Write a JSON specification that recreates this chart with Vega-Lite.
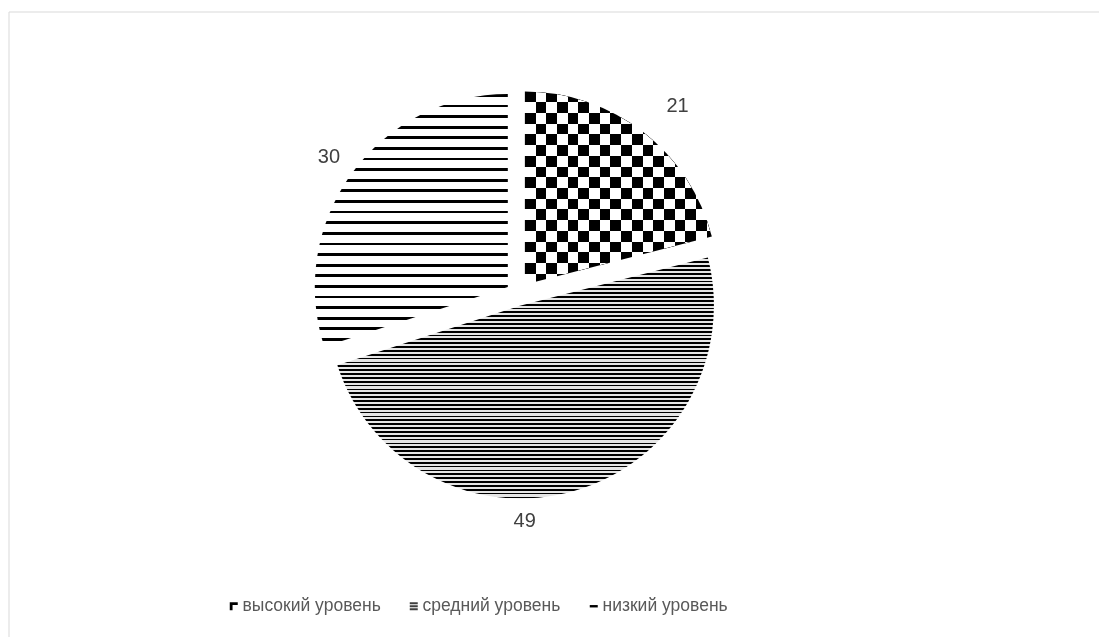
{
  "$schema": "https://vega.github.io/schema/vega-lite/v6.json",
  "width": 1090.5,
  "height": 625.5,
  "autosize": {"type": "none"},
  "padding": {"left": 8.5, "top": 11.5, "right": 0, "bottom": 0},
  "background": "white",
  "view": {"stroke": "#d9d9d9", "strokeWidth": 1, "fill": "white"},
  "config": {
    "view": {"stroke": "#d9d9d9", "strokeWidth": 1}
  },
  "data": {
    "values": [
      {"cat": "высокий уровень", "value": 21, "ord": 1},
      {"cat": "средний уровень", "value": 49, "ord": 2},
      {"cat": "низкий уровень", "value": 30, "ord": 3}
    ]
  },
  "layer": [
    {
      "mark": {"type": "point", "filled": true, "opacity": 0},
      "encoding": {
        "color": {
          "field": "cat", "type": "nominal",
          "scale": {"domain": ["высокий уровень", "средний уровень", "низкий уровень"], "range": ["#000000", "#404040", "#000000"]},
          "legend": {"title": null, "orient": "none", "legendX": 216.5, "legendY": 586, "direction": "horizontal", "gridAlign": "none", "symbolSize": 64, "symbolStrokeWidth": 0, "labelFont": "Liberation Sans", "labelFontSize": 17.5, "labelColor": "#595959", "labelOffset": 0, "columnPadding": 24, "padding": 0, "symbolOpacity": 1}
        },
        "shape": {
          "field": "cat", "type": "nominal",
          "scale": {"domain": ["высокий уровень", "средний уровень", "низкий уровень"], "range": ["M-1,-1H1V-0.3H-0.3V1H-1Z", "M-1,-1H1V-0.5H-1Z M-1,-0.25H1V0.25H-1Z M-1,0.5H1V1H-1Z", "M-1,-0.3H1V0.3H-1Z"]},
          "legend": {"title": null, "orient": "none", "legendX": 216.5, "legendY": 586, "direction": "horizontal", "gridAlign": "none", "symbolSize": 64, "symbolStrokeWidth": 0, "labelFont": "Liberation Sans", "labelFontSize": 17.5, "labelColor": "#595959", "labelOffset": 0, "columnPadding": 24, "padding": 0, "symbolOpacity": 1}
        }
      }
    },
    {
      "mark": {"type": "arc", "radius": 193, "x": 516.4, "y": 273,
        "fill": {"gradient": "linear", "x1": 0, "y1": 0, "x2": 0, "y2": 1, "stops": [
          {"offset": 0, "color": "#000"}, {"offset": 0.05556, "color": "#000"}, {"offset": 0.05556, "color": "#fff"}, {"offset": 0.11111, "color": "#fff"},
          {"offset": 0.11111, "color": "#000"}, {"offset": 0.16667, "color": "#000"}, {"offset": 0.16667, "color": "#fff"}, {"offset": 0.22222, "color": "#fff"},
          {"offset": 0.22222, "color": "#000"}, {"offset": 0.27778, "color": "#000"}, {"offset": 0.27778, "color": "#fff"}, {"offset": 0.33333, "color": "#fff"},
          {"offset": 0.33333, "color": "#000"}, {"offset": 0.38889, "color": "#000"}, {"offset": 0.38889, "color": "#fff"}, {"offset": 0.44444, "color": "#fff"},
          {"offset": 0.44444, "color": "#000"}, {"offset": 0.5, "color": "#000"}, {"offset": 0.5, "color": "#fff"}, {"offset": 0.55556, "color": "#fff"},
          {"offset": 0.55556, "color": "#000"}, {"offset": 0.61111, "color": "#000"}, {"offset": 0.61111, "color": "#fff"}, {"offset": 0.66667, "color": "#fff"},
          {"offset": 0.66667, "color": "#000"}, {"offset": 0.72222, "color": "#000"}, {"offset": 0.72222, "color": "#fff"}, {"offset": 0.77778, "color": "#fff"},
          {"offset": 0.77778, "color": "#000"}, {"offset": 0.83333, "color": "#000"}, {"offset": 0.83333, "color": "#fff"}, {"offset": 0.88889, "color": "#fff"},
          {"offset": 0.88889, "color": "#000"}, {"offset": 0.94444, "color": "#000"}, {"offset": 0.94444, "color": "#fff"}, {"offset": 1, "color": "#fff"}
        ]}
      },
      "encoding": {
        "theta": {"field": "value", "type": "quantitative", "stack": true},
        "order": {"field": "ord", "type": "quantitative"},
        "detail": {"field": "cat", "type": "nominal"},
        "opacity": {"condition": {"test": "datum.cat === 'высокий уровень'", "value": 1}, "value": 0}
      }
    },
    {
      "mark": {"type": "arc", "radius": 193, "x": 516.4, "y": 273, "blend": "difference",
        "fill": {"gradient": "linear", "x1": 0, "y1": 0, "x2": 1, "y2": 0, "stops": [
          {"offset": 0, "color": "#000"}, {"offset": 0.0572, "color": "#000"}, {"offset": 0.0572, "color": "#fff"}, {"offset": 0.1144, "color": "#fff"},
          {"offset": 0.1144, "color": "#000"}, {"offset": 0.1716, "color": "#000"}, {"offset": 0.1716, "color": "#fff"}, {"offset": 0.2288, "color": "#fff"},
          {"offset": 0.2288, "color": "#000"}, {"offset": 0.286, "color": "#000"}, {"offset": 0.286, "color": "#fff"}, {"offset": 0.3432, "color": "#fff"},
          {"offset": 0.3432, "color": "#000"}, {"offset": 0.4004, "color": "#000"}, {"offset": 0.4004, "color": "#fff"}, {"offset": 0.4576, "color": "#fff"},
          {"offset": 0.4576, "color": "#000"}, {"offset": 0.5148, "color": "#000"}, {"offset": 0.5148, "color": "#fff"}, {"offset": 0.572, "color": "#fff"},
          {"offset": 0.572, "color": "#000"}, {"offset": 0.6292, "color": "#000"}, {"offset": 0.6292, "color": "#fff"}, {"offset": 0.6864, "color": "#fff"},
          {"offset": 0.6864, "color": "#000"}, {"offset": 0.7436, "color": "#000"}, {"offset": 0.7436, "color": "#fff"}, {"offset": 0.8008, "color": "#fff"},
          {"offset": 0.8008, "color": "#000"}, {"offset": 0.858, "color": "#000"}, {"offset": 0.858, "color": "#fff"}, {"offset": 0.9152, "color": "#fff"},
          {"offset": 0.9152, "color": "#000"}, {"offset": 0.9724, "color": "#000"}, {"offset": 0.9724, "color": "#fff"}, {"offset": 1, "color": "#fff"}
        ]}
      },
      "encoding": {
        "theta": {"field": "value", "type": "quantitative", "stack": true},
        "order": {"field": "ord", "type": "quantitative"},
        "detail": {"field": "cat", "type": "nominal"},
        "opacity": {"condition": {"test": "datum.cat === 'высокий уровень'", "value": 1}, "value": 0}
      }
    },
    {
      "mark": {"type": "arc", "radius": 193, "x": 512.4, "y": 294,
        "fill": {"gradient": "linear", "x1": 0, "y1": 0, "x2": 0, "y2": 1, "stops": [
          {"offset": 0, "color": "#000"}, {"offset": 0.0072, "color": "#000"}, {"offset": 0.0072, "color": "#e6e6e6"}, {"offset": 0.016, "color": "#e6e6e6"},
          {"offset": 0.016, "color": "#000"}, {"offset": 0.0232, "color": "#000"}, {"offset": 0.0232, "color": "#e6e6e6"}, {"offset": 0.032, "color": "#e6e6e6"},
          {"offset": 0.032, "color": "#000"}, {"offset": 0.0392, "color": "#000"}, {"offset": 0.0392, "color": "#e6e6e6"}, {"offset": 0.048, "color": "#e6e6e6"},
          {"offset": 0.048, "color": "#000"}, {"offset": 0.0552, "color": "#000"}, {"offset": 0.0552, "color": "#e6e6e6"}, {"offset": 0.064, "color": "#e6e6e6"},
          {"offset": 0.064, "color": "#000"}, {"offset": 0.0712, "color": "#000"}, {"offset": 0.0712, "color": "#e6e6e6"}, {"offset": 0.08, "color": "#e6e6e6"},
          {"offset": 0.08, "color": "#000"}, {"offset": 0.0872, "color": "#000"}, {"offset": 0.0872, "color": "#e6e6e6"}, {"offset": 0.096, "color": "#e6e6e6"},
          {"offset": 0.096, "color": "#000"}, {"offset": 0.1032, "color": "#000"}, {"offset": 0.1032, "color": "#e6e6e6"}, {"offset": 0.112, "color": "#e6e6e6"},
          {"offset": 0.112, "color": "#000"}, {"offset": 0.1192, "color": "#000"}, {"offset": 0.1192, "color": "#e6e6e6"}, {"offset": 0.128, "color": "#e6e6e6"},
          {"offset": 0.128, "color": "#000"}, {"offset": 0.1352, "color": "#000"}, {"offset": 0.1352, "color": "#e6e6e6"}, {"offset": 0.144, "color": "#e6e6e6"},
          {"offset": 0.144, "color": "#000"}, {"offset": 0.1512, "color": "#000"}, {"offset": 0.1512, "color": "#e6e6e6"}, {"offset": 0.16, "color": "#e6e6e6"},
          {"offset": 0.16, "color": "#000"}, {"offset": 0.1672, "color": "#000"}, {"offset": 0.1672, "color": "#e6e6e6"}, {"offset": 0.176, "color": "#e6e6e6"},
          {"offset": 0.176, "color": "#000"}, {"offset": 0.1832, "color": "#000"}, {"offset": 0.1832, "color": "#e6e6e6"}, {"offset": 0.192, "color": "#e6e6e6"},
          {"offset": 0.192, "color": "#000"}, {"offset": 0.1992, "color": "#000"}, {"offset": 0.1992, "color": "#e6e6e6"}, {"offset": 0.208, "color": "#e6e6e6"},
          {"offset": 0.208, "color": "#000"}, {"offset": 0.2152, "color": "#000"}, {"offset": 0.2152, "color": "#e6e6e6"}, {"offset": 0.224, "color": "#e6e6e6"},
          {"offset": 0.224, "color": "#000"}, {"offset": 0.2312, "color": "#000"}, {"offset": 0.2312, "color": "#e6e6e6"}, {"offset": 0.24, "color": "#e6e6e6"},
          {"offset": 0.24, "color": "#000"}, {"offset": 0.2472, "color": "#000"}, {"offset": 0.2472, "color": "#e6e6e6"}, {"offset": 0.256, "color": "#e6e6e6"},
          {"offset": 0.256, "color": "#000"}, {"offset": 0.2632, "color": "#000"}, {"offset": 0.2632, "color": "#e6e6e6"}, {"offset": 0.272, "color": "#e6e6e6"},
          {"offset": 0.272, "color": "#000"}, {"offset": 0.2792, "color": "#000"}, {"offset": 0.2792, "color": "#e6e6e6"}, {"offset": 0.288, "color": "#e6e6e6"},
          {"offset": 0.288, "color": "#000"}, {"offset": 0.2952, "color": "#000"}, {"offset": 0.2952, "color": "#e6e6e6"}, {"offset": 0.304, "color": "#e6e6e6"},
          {"offset": 0.304, "color": "#000"}, {"offset": 0.3112, "color": "#000"}, {"offset": 0.3112, "color": "#e6e6e6"}, {"offset": 0.32, "color": "#e6e6e6"},
          {"offset": 0.32, "color": "#000"}, {"offset": 0.3272, "color": "#000"}, {"offset": 0.3272, "color": "#e6e6e6"}, {"offset": 0.336, "color": "#e6e6e6"},
          {"offset": 0.336, "color": "#000"}, {"offset": 0.3432, "color": "#000"}, {"offset": 0.3432, "color": "#e6e6e6"}, {"offset": 0.352, "color": "#e6e6e6"},
          {"offset": 0.352, "color": "#000"}, {"offset": 0.3592, "color": "#000"}, {"offset": 0.3592, "color": "#e6e6e6"}, {"offset": 0.368, "color": "#e6e6e6"},
          {"offset": 0.368, "color": "#000"}, {"offset": 0.3752, "color": "#000"}, {"offset": 0.3752, "color": "#e6e6e6"}, {"offset": 0.384, "color": "#e6e6e6"},
          {"offset": 0.384, "color": "#000"}, {"offset": 0.3912, "color": "#000"}, {"offset": 0.3912, "color": "#e6e6e6"}, {"offset": 0.4, "color": "#e6e6e6"},
          {"offset": 0.4, "color": "#000"}, {"offset": 0.4072, "color": "#000"}, {"offset": 0.4072, "color": "#e6e6e6"}, {"offset": 0.416, "color": "#e6e6e6"},
          {"offset": 0.416, "color": "#000"}, {"offset": 0.4232, "color": "#000"}, {"offset": 0.4232, "color": "#e6e6e6"}, {"offset": 0.432, "color": "#e6e6e6"},
          {"offset": 0.432, "color": "#000"}, {"offset": 0.4392, "color": "#000"}, {"offset": 0.4392, "color": "#e6e6e6"}, {"offset": 0.448, "color": "#e6e6e6"},
          {"offset": 0.448, "color": "#000"}, {"offset": 0.4552, "color": "#000"}, {"offset": 0.4552, "color": "#e6e6e6"}, {"offset": 0.464, "color": "#e6e6e6"},
          {"offset": 0.464, "color": "#000"}, {"offset": 0.4712, "color": "#000"}, {"offset": 0.4712, "color": "#e6e6e6"}, {"offset": 0.48, "color": "#e6e6e6"},
          {"offset": 0.48, "color": "#000"}, {"offset": 0.4872, "color": "#000"}, {"offset": 0.4872, "color": "#e6e6e6"}, {"offset": 0.496, "color": "#e6e6e6"},
          {"offset": 0.496, "color": "#000"}, {"offset": 0.5032, "color": "#000"}, {"offset": 0.5032, "color": "#e6e6e6"}, {"offset": 0.512, "color": "#e6e6e6"},
          {"offset": 0.512, "color": "#000"}, {"offset": 0.5192, "color": "#000"}, {"offset": 0.5192, "color": "#e6e6e6"}, {"offset": 0.528, "color": "#e6e6e6"},
          {"offset": 0.528, "color": "#000"}, {"offset": 0.5352, "color": "#000"}, {"offset": 0.5352, "color": "#e6e6e6"}, {"offset": 0.544, "color": "#e6e6e6"},
          {"offset": 0.544, "color": "#000"}, {"offset": 0.5512, "color": "#000"}, {"offset": 0.5512, "color": "#e6e6e6"}, {"offset": 0.56, "color": "#e6e6e6"},
          {"offset": 0.56, "color": "#000"}, {"offset": 0.5672, "color": "#000"}, {"offset": 0.5672, "color": "#e6e6e6"}, {"offset": 0.576, "color": "#e6e6e6"},
          {"offset": 0.576, "color": "#000"}, {"offset": 0.5832, "color": "#000"}, {"offset": 0.5832, "color": "#e6e6e6"}, {"offset": 0.592, "color": "#e6e6e6"},
          {"offset": 0.592, "color": "#000"}, {"offset": 0.5992, "color": "#000"}, {"offset": 0.5992, "color": "#e6e6e6"}, {"offset": 0.608, "color": "#e6e6e6"},
          {"offset": 0.608, "color": "#000"}, {"offset": 0.6152, "color": "#000"}, {"offset": 0.6152, "color": "#e6e6e6"}, {"offset": 0.624, "color": "#e6e6e6"},
          {"offset": 0.624, "color": "#000"}, {"offset": 0.6312, "color": "#000"}, {"offset": 0.6312, "color": "#e6e6e6"}, {"offset": 0.64, "color": "#e6e6e6"},
          {"offset": 0.64, "color": "#000"}, {"offset": 0.6472, "color": "#000"}, {"offset": 0.6472, "color": "#e6e6e6"}, {"offset": 0.656, "color": "#e6e6e6"},
          {"offset": 0.656, "color": "#000"}, {"offset": 0.6632, "color": "#000"}, {"offset": 0.6632, "color": "#e6e6e6"}, {"offset": 0.672, "color": "#e6e6e6"},
          {"offset": 0.672, "color": "#000"}, {"offset": 0.6792, "color": "#000"}, {"offset": 0.6792, "color": "#e6e6e6"}, {"offset": 0.688, "color": "#e6e6e6"},
          {"offset": 0.688, "color": "#000"}, {"offset": 0.6952, "color": "#000"}, {"offset": 0.6952, "color": "#e6e6e6"}, {"offset": 0.704, "color": "#e6e6e6"},
          {"offset": 0.704, "color": "#000"}, {"offset": 0.7112, "color": "#000"}, {"offset": 0.7112, "color": "#e6e6e6"}, {"offset": 0.72, "color": "#e6e6e6"},
          {"offset": 0.72, "color": "#000"}, {"offset": 0.7272, "color": "#000"}, {"offset": 0.7272, "color": "#e6e6e6"}, {"offset": 0.736, "color": "#e6e6e6"},
          {"offset": 0.736, "color": "#000"}, {"offset": 0.7432, "color": "#000"}, {"offset": 0.7432, "color": "#e6e6e6"}, {"offset": 0.752, "color": "#e6e6e6"},
          {"offset": 0.752, "color": "#000"}, {"offset": 0.7592, "color": "#000"}, {"offset": 0.7592, "color": "#e6e6e6"}, {"offset": 0.768, "color": "#e6e6e6"},
          {"offset": 0.768, "color": "#000"}, {"offset": 0.7752, "color": "#000"}, {"offset": 0.7752, "color": "#e6e6e6"}, {"offset": 0.784, "color": "#e6e6e6"},
          {"offset": 0.784, "color": "#000"}, {"offset": 0.7912, "color": "#000"}, {"offset": 0.7912, "color": "#e6e6e6"}, {"offset": 0.8, "color": "#e6e6e6"},
          {"offset": 0.8, "color": "#000"}, {"offset": 0.8072, "color": "#000"}, {"offset": 0.8072, "color": "#e6e6e6"}, {"offset": 0.816, "color": "#e6e6e6"},
          {"offset": 0.816, "color": "#000"}, {"offset": 0.8232, "color": "#000"}, {"offset": 0.8232, "color": "#e6e6e6"}, {"offset": 0.832, "color": "#e6e6e6"},
          {"offset": 0.832, "color": "#000"}, {"offset": 0.8392, "color": "#000"}, {"offset": 0.8392, "color": "#e6e6e6"}, {"offset": 0.848, "color": "#e6e6e6"},
          {"offset": 0.848, "color": "#000"}, {"offset": 0.8552, "color": "#000"}, {"offset": 0.8552, "color": "#e6e6e6"}, {"offset": 0.864, "color": "#e6e6e6"},
          {"offset": 0.864, "color": "#000"}, {"offset": 0.8712, "color": "#000"}, {"offset": 0.8712, "color": "#e6e6e6"}, {"offset": 0.88, "color": "#e6e6e6"},
          {"offset": 0.88, "color": "#000"}, {"offset": 0.8872, "color": "#000"}, {"offset": 0.8872, "color": "#e6e6e6"}, {"offset": 0.896, "color": "#e6e6e6"},
          {"offset": 0.896, "color": "#000"}, {"offset": 0.9032, "color": "#000"}, {"offset": 0.9032, "color": "#e6e6e6"}, {"offset": 0.912, "color": "#e6e6e6"},
          {"offset": 0.912, "color": "#000"}, {"offset": 0.9192, "color": "#000"}, {"offset": 0.9192, "color": "#e6e6e6"}, {"offset": 0.928, "color": "#e6e6e6"},
          {"offset": 0.928, "color": "#000"}, {"offset": 0.9352, "color": "#000"}, {"offset": 0.9352, "color": "#e6e6e6"}, {"offset": 0.944, "color": "#e6e6e6"},
          {"offset": 0.944, "color": "#000"}, {"offset": 0.9512, "color": "#000"}, {"offset": 0.9512, "color": "#e6e6e6"}, {"offset": 0.96, "color": "#e6e6e6"},
          {"offset": 0.96, "color": "#000"}, {"offset": 0.9672, "color": "#000"}, {"offset": 0.9672, "color": "#e6e6e6"}, {"offset": 0.976, "color": "#e6e6e6"},
          {"offset": 0.976, "color": "#000"}, {"offset": 0.9832, "color": "#000"}, {"offset": 0.9832, "color": "#e6e6e6"}, {"offset": 0.992, "color": "#e6e6e6"},
          {"offset": 0.992, "color": "#000"}, {"offset": 0.9992, "color": "#000"}, {"offset": 0.9992, "color": "#e6e6e6"}, {"offset": 1, "color": "#e6e6e6"}
        ]}
      },
      "encoding": {
        "theta": {"field": "value", "type": "quantitative", "stack": true},
        "order": {"field": "ord", "type": "quantitative"},
        "detail": {"field": "cat", "type": "nominal"},
        "opacity": {"condition": {"test": "datum.cat === 'средний уровень'", "value": 1}, "value": 0}
      }
    },
    {
      "mark": {"type": "arc", "radius": 193, "x": 499.3, "y": 275.5,
        "fill": {"gradient": "linear", "x1": 0, "y1": 0, "x2": 0, "y2": 1, "stops": [
          {"offset": 0, "color": "#000"}, {"offset": 0.011, "color": "#000"}, {"offset": 0.011, "color": "#fff"}, {"offset": 0.042, "color": "#fff"},
          {"offset": 0.042, "color": "#000"}, {"offset": 0.053, "color": "#000"}, {"offset": 0.053, "color": "#fff"}, {"offset": 0.084, "color": "#fff"},
          {"offset": 0.084, "color": "#000"}, {"offset": 0.095, "color": "#000"}, {"offset": 0.095, "color": "#fff"}, {"offset": 0.126, "color": "#fff"},
          {"offset": 0.126, "color": "#000"}, {"offset": 0.137, "color": "#000"}, {"offset": 0.137, "color": "#fff"}, {"offset": 0.168, "color": "#fff"},
          {"offset": 0.168, "color": "#000"}, {"offset": 0.179, "color": "#000"}, {"offset": 0.179, "color": "#fff"}, {"offset": 0.21, "color": "#fff"},
          {"offset": 0.21, "color": "#000"}, {"offset": 0.221, "color": "#000"}, {"offset": 0.221, "color": "#fff"}, {"offset": 0.252, "color": "#fff"},
          {"offset": 0.252, "color": "#000"}, {"offset": 0.263, "color": "#000"}, {"offset": 0.263, "color": "#fff"}, {"offset": 0.294, "color": "#fff"},
          {"offset": 0.294, "color": "#000"}, {"offset": 0.305, "color": "#000"}, {"offset": 0.305, "color": "#fff"}, {"offset": 0.336, "color": "#fff"},
          {"offset": 0.336, "color": "#000"}, {"offset": 0.347, "color": "#000"}, {"offset": 0.347, "color": "#fff"}, {"offset": 0.378, "color": "#fff"},
          {"offset": 0.378, "color": "#000"}, {"offset": 0.389, "color": "#000"}, {"offset": 0.389, "color": "#fff"}, {"offset": 0.42, "color": "#fff"},
          {"offset": 0.42, "color": "#000"}, {"offset": 0.431, "color": "#000"}, {"offset": 0.431, "color": "#fff"}, {"offset": 0.462, "color": "#fff"},
          {"offset": 0.462, "color": "#000"}, {"offset": 0.473, "color": "#000"}, {"offset": 0.473, "color": "#fff"}, {"offset": 0.504, "color": "#fff"},
          {"offset": 0.504, "color": "#000"}, {"offset": 0.515, "color": "#000"}, {"offset": 0.515, "color": "#fff"}, {"offset": 0.546, "color": "#fff"},
          {"offset": 0.546, "color": "#000"}, {"offset": 0.557, "color": "#000"}, {"offset": 0.557, "color": "#fff"}, {"offset": 0.588, "color": "#fff"},
          {"offset": 0.588, "color": "#000"}, {"offset": 0.599, "color": "#000"}, {"offset": 0.599, "color": "#fff"}, {"offset": 0.63, "color": "#fff"},
          {"offset": 0.63, "color": "#000"}, {"offset": 0.641, "color": "#000"}, {"offset": 0.641, "color": "#fff"}, {"offset": 0.672, "color": "#fff"},
          {"offset": 0.672, "color": "#000"}, {"offset": 0.683, "color": "#000"}, {"offset": 0.683, "color": "#fff"}, {"offset": 0.714, "color": "#fff"},
          {"offset": 0.714, "color": "#000"}, {"offset": 0.725, "color": "#000"}, {"offset": 0.725, "color": "#fff"}, {"offset": 0.756, "color": "#fff"},
          {"offset": 0.756, "color": "#000"}, {"offset": 0.767, "color": "#000"}, {"offset": 0.767, "color": "#fff"}, {"offset": 0.798, "color": "#fff"},
          {"offset": 0.798, "color": "#000"}, {"offset": 0.809, "color": "#000"}, {"offset": 0.809, "color": "#fff"}, {"offset": 0.84, "color": "#fff"},
          {"offset": 0.84, "color": "#000"}, {"offset": 0.851, "color": "#000"}, {"offset": 0.851, "color": "#fff"}, {"offset": 0.882, "color": "#fff"},
          {"offset": 0.882, "color": "#000"}, {"offset": 0.893, "color": "#000"}, {"offset": 0.893, "color": "#fff"}, {"offset": 0.924, "color": "#fff"},
          {"offset": 0.924, "color": "#000"}, {"offset": 0.935, "color": "#000"}, {"offset": 0.935, "color": "#fff"}, {"offset": 0.966, "color": "#fff"},
          {"offset": 0.966, "color": "#000"}, {"offset": 0.977, "color": "#000"}, {"offset": 0.977, "color": "#fff"}, {"offset": 1, "color": "#fff"}
        ]}
      },
      "encoding": {
        "theta": {"field": "value", "type": "quantitative", "stack": true},
        "order": {"field": "ord", "type": "quantitative"},
        "detail": {"field": "cat", "type": "nominal"},
        "opacity": {"condition": {"test": "datum.cat === 'низкий уровень'", "value": 1}, "value": 0}
      }
    },
    {
      "mark": {"type": "text", "radius": 247, "thetaOffset": 0.045, "x": 509, "y": 282.5, "font": "Liberation Sans", "fontSize": 20, "fill": "#404040", "align": "center", "baseline": "middle"},
      "encoding": {
        "theta": {"field": "value", "type": "quantitative", "stack": true},
        "order": {"field": "ord", "type": "quantitative"},
        "detail": {"field": "cat", "type": "nominal"},
        "text": {"field": "value", "type": "quantitative"},
        "opacity": {"condition": {"test": "datum.cat === 'высокий уровень'", "value": 1}, "value": 0}
      }
    },
    {
      "mark": {"type": "text", "radius": 227, "thetaOffset": 0.251, "x": 509, "y": 282.5, "font": "Liberation Sans", "fontSize": 20, "fill": "#404040", "align": "center", "baseline": "middle"},
      "encoding": {
        "theta": {"field": "value", "type": "quantitative", "stack": true},
        "order": {"field": "ord", "type": "quantitative"},
        "detail": {"field": "cat", "type": "nominal"},
        "text": {"field": "value", "type": "quantitative"},
        "opacity": {"condition": {"test": "datum.cat === 'средний уровень'", "value": 1}, "value": 0}
      }
    },
    {
      "mark": {"type": "text", "radius": 233, "x": 509, "y": 282.5, "font": "Liberation Sans", "fontSize": 20, "fill": "#404040", "align": "center", "baseline": "middle"},
      "encoding": {
        "theta": {"field": "value", "type": "quantitative", "stack": true},
        "order": {"field": "ord", "type": "quantitative"},
        "detail": {"field": "cat", "type": "nominal"},
        "text": {"field": "value", "type": "quantitative"},
        "opacity": {"condition": {"test": "datum.cat === 'низкий уровень'", "value": 1}, "value": 0}
      }
    }
  ]
}
